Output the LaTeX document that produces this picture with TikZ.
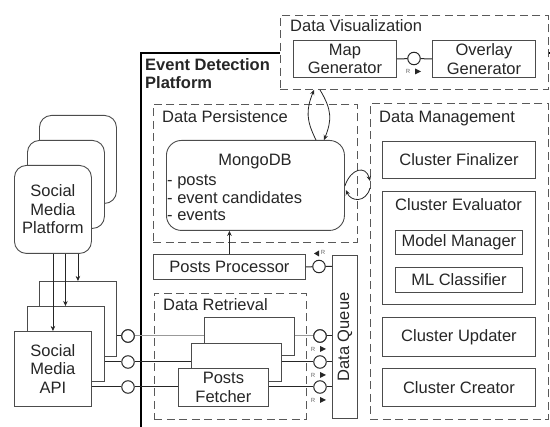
\documentclass[tikz,border=0pt]{standalone}
\usepackage{fontspec}
\setmainfont{Liberation Sans}
\usetikzlibrary{arrows.meta,calc}
\begin{document}
\begin{tikzpicture}[x=1pt,y=-1pt,
  every node/.style={font=\fontsize{16.5}{18.5}\selectfont, text=black!85},
  box/.style={draw=black!70, line width=0.9pt, fill=white, inner sep=0pt, align=center, anchor=north west},
  rbox/.style={box, rounded corners=12pt},
  area/.style={draw=black!65, line width=0.9pt, dash pattern=on 8pt off 4.5pt, inner sep=0pt, anchor=north west},
  ttl/.style={anchor=base west, inner sep=0pt},
  txt/.style={inner sep=0pt},
  ifc/.style={circle, draw=black!85, line width=1pt, fill=white, minimum size=12.5pt, inner sep=0pt},
  link/.style={draw=black!85, line width=1pt},
  glink/.style={draw=black!40, line width=1pt},
  arr/.style={draw=black!85, line width=0.8pt, -{Stealth[length=5pt,width=4.5pt]}},
  rmark/.style={font=\fontsize{6}{6}\selectfont, text=black!60, inner sep=0pt},
  tri/.style={fill=black!85},
]
\useasboundingbox (0,0) rectangle (550,427);
\clip (0,0) rectangle (550,427);

% main platform
\node[draw=black, line width=2pt, minimum width=430pt, minimum height=398pt, anchor=north west, inner sep=0pt] (edp) at (140,52) {};
\node[ttl, font=\fontsize{16.5}{18.5}\selectfont\bfseries] (edpt1) at (145,71) {Event Detection};
\node[ttl, font=\fontsize{16.5}{18.5}\selectfont\bfseries] (edpt2) at (145,89) {Platform};

% Data Visualization
\node[area, fill=white, minimum width=268pt, minimum height=74pt] (dv) at (280,15) {};
\node[ttl] (dvt) at (290,32) {Data Visualization};
\node[box, minimum width=103pt, minimum height=37pt] (map) at (293,40) {Map\\Generator};
\node[box, minimum width=103pt, minimum height=37pt] (ovl) at (432,40) {Overlay\\Generator};
\node[ifc] (c0) at (414,58.5) {};
\draw[link] (map.east) -- (c0) -- (ovl.west);
\node[rmark] (r0) at ($(c0)+(-6,13)$) {R};
\fill[tri] ($(c0)+(1,10)$) -- ++(6,3) -- ++(-6,3) -- cycle;

% Data Persistence
\node[area, minimum width=204pt, minimum height=138pt] (dp) at (153,104) {};
\node[ttl] (dpt) at (162,123) {Data Persistence};
\node[rbox, rounded corners=15pt, minimum width=178pt, minimum height=90pt] (mongo) at (166,140) {};
\node[txt, anchor=base] (mt) at (255,166) {MongoDB};
\node[ttl] (m1) at (167,186) {- posts};
\node[ttl] (m2) at (167,204) {- event candidates};
\node[ttl] (m3) at (167,221) {- events};

% Data Management
\node[area, minimum width=178pt, minimum height=316pt] (dm) at (370,103) {};
\node[ttl] (dmt) at (379,123) {Data Management};
\node[box, minimum width=153pt, minimum height=37pt] (cf) at (382,141) {Cluster Finalizer};
\node[box, minimum width=153pt, minimum height=113pt] (ce) at (382,191) {};
\node[txt, anchor=base] (cet) at (458.5,211) {Cluster Evaluator};
\node[box, minimum width=127pt, minimum height=24pt] (mm) at (395,230) {Model Manager};
\node[box, minimum width=127pt, minimum height=25pt] (mlc) at (395,267) {ML Classifier};
\node[box, minimum width=153pt, minimum height=39pt] (cu) at (382,317) {Cluster Updater};
\node[box, minimum width=153pt, minimum height=38pt] (cc) at (382,368) {Cluster Creator};

% Posts Processor and Data Queue
\node[box, minimum width=152pt, minimum height=25pt] (pp) at (153,254) {Posts Processor};
\node[box, minimum width=25pt, minimum height=163pt] (dq) at (332,255) {};
\node[txt, rotate=90] (dqt) at (dq.center) {Data Queue};
\node[ifc] (cpp) at (319,266.5) {};
\draw[link] (pp.east) -- (cpp) -- (cpp -| dq.west);
\fill[tri] ($(cpp)+(-5,-13)$) -- ++(5,-3) -- ++(0,6) -- cycle;
\node[rmark] (rpp) at ($(cpp)+(4,-14)$) {R};
\draw[arr] (pp.north) -- (pp.north |- mongo.south);

% Data Retrieval
\node[area, minimum width=152pt, minimum height=126pt] (dr) at (154,293) {};
\node[ttl] (drt) at (163,311) {Data Retrieval};
\node[box, minimum width=90pt, minimum height=38pt] (fB) at (204,317) {};
\node[box, minimum width=90pt, minimum height=38pt] (fM) at (191,343) {};
\node[box, minimum width=90pt, minimum height=38pt] (fF) at (178,368) {Posts\\Fetcher};

% Social Media Platform stack
\node[rbox, minimum width=77pt, minimum height=88pt] (smpB) at (39,115) {};
\node[rbox, minimum width=77pt, minimum height=88pt] (smpM) at (27,140) {};
\node[rbox, minimum width=77pt, minimum height=88pt] (smpF) at (14,165) {Social\\Media\\Platform};

% Social Media API stack
\node[box, minimum width=77pt, minimum height=75pt] (apiB) at (39,281) {};
\node[box, minimum width=77pt, minimum height=75pt] (apiM) at (27,306) {};
\node[box, minimum width=77pt, minimum height=75pt] (apiF) at (14,331) {Social\\Media\\API};

% interfaces
\node[ifc] (cL1) at (128,336) {};
\node[ifc] (cL2) at (128,362) {};
\node[ifc] (cL3) at (128,387) {};
\node[ifc] (cR1) at (320,336) {};
\node[ifc] (cR2) at (320,362) {};
\node[ifc] (cR3) at (320,387) {};

\draw[link] (cL1 -| apiB.east) -- (cL1);
\draw[glink] (cL1) -- (cL1 -| fB.west);
\draw[glink] (cR1 -| fB.east) -- (cR1);
\draw[link] (cR1) -- (cR1 -| dq.west);
\draw[link] (cL2 -| apiM.east) -- (cL2) -- (cL2 -| fM.west);
\draw[link] (cR2 -| fM.east) -- (cR2) -- (cR2 -| dq.west);
\draw[link] (cL3 -| apiF.east) -- (cL3) -- (cL3 -| fF.west);
\draw[link] (cR3 -| fF.east) -- (cR3) -- (cR3 -| dq.west);
\node[ifc] at (cL1) {};
\node[ifc] at (cR1) {};

\foreach \c in {cR1,cR2,cR3}{
  \node[rmark] at ($(\c)+(-7,13)$) {R};
  \fill[tri] ($(\c)+(0,10)$) -- ++(6,3) -- ++(-6,3) -- cycle;
}

% arrows platform -> API
\draw[arr] (smpF.south) -- (smpF.south |- apiF.north);
\draw[arr] ($(smpF.south)+(12.5,0)$) -- ($(smpF.south |- apiM.north)+(12.5,0)$);
\draw[arr] ($(smpF.south)+(25,0)$) -- ($(smpF.south |- apiB.north)+(25,0)$);

% Mongo <-> visualization
\draw[arr] ($(mongo.north west)+(150,0)$) .. controls ($(mongo.north west)+(140,-20)$) and ($(dv.south west)+(26,20)$) .. ($(dv.south west)+(34,0)$);
\draw[arr] ($(dv.south west)+(40,0)$) .. controls ($(dv.south west)+(52,20)$) and ($(mongo.north west)+(166,-20)$) .. ($(mongo.north west)+(158,0)$);

% Mongo <-> management
\draw[arr] ($(mongo.north east)+(0,46)$) .. controls ($(mongo.north east)+(6,28)$) and ($(dm.north west)+(-4,62)$) .. ($(dm.north west)+(0,78)$);
\draw[arr] ($(dm.north west)+(0,85)$) .. controls ($(dm.north west)+(-4,100)$) and ($(mongo.north east)+(6,62)$) .. ($(mongo.north east)+(1,50)$);
\end{tikzpicture}
\end{document}
